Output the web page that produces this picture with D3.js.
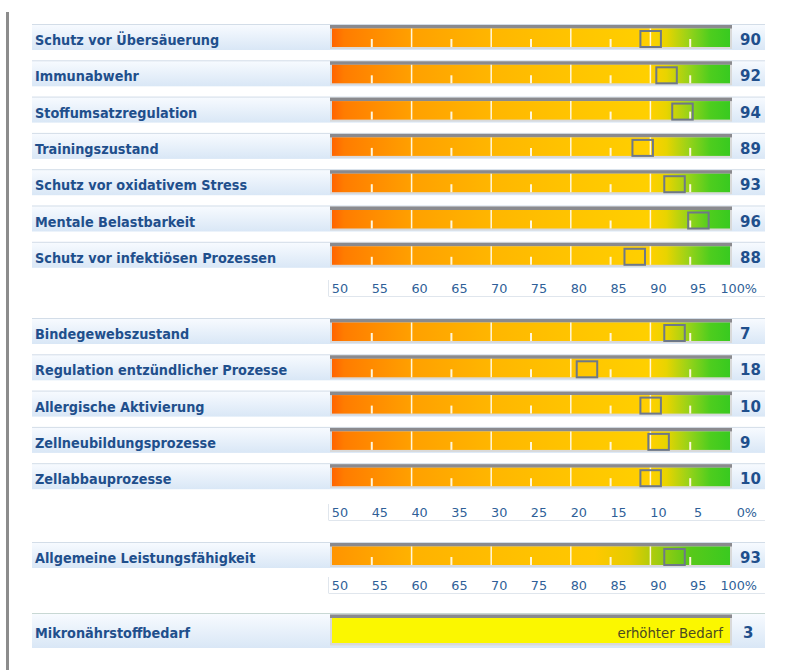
<!DOCTYPE html>
<html>
<head>
<meta charset="utf-8">
<script src="https://cdn.jsdelivr.net/npm/d3@7"></script>
<style>
  body { margin: 0; background: #fff; }
  .lbl { font-family: 'DejaVu Sans Condensed', 'DejaVu Sans', sans-serif; font-weight: bold; fill: #1f4f8c; }
  .val { font-family: 'DejaVu Sans', sans-serif; font-weight: bold; fill: #1f4f8c; }
  .tick { font-family: 'DejaVu Sans', sans-serif; fill: #2f5f98; }
</style>
</head>
<body>
<div class="chart"></div>
<script>
  const width = 791;
  const height = 670;

  // section 1: percent 50..100
  const labelsA = ['Schutz vor Übersäuerung', 'Immunabwehr', 'Stoffumsatzregulation', 'Trainingszustand',
    'Schutz vor oxidativem Stress', 'Mentale Belastbarkeit', 'Schutz vor infektiösen Prozessen']
  const valuesA = [90, 92, 94, 89, 93, 96, 88]

  // section 2: percent 50..0
  const labelsB = ['Bindegewebszustand', 'Regulation entzündlicher Prozesse', 'Allergische Aktivierung',
    'Zellneubildungsprozesse', 'Zellabbauprozesse']
  const valuesB = [7, 18, 10, 9, 10]

  // section 3
  const labelsC = ['Allgemeine Leistungsfähigkeit']
  const valuesC = [93]

  // section 4
  const needLabel = 'Mikronährstoffbedarf'
  const needValue = 3
  const needText = 'erhöhter Bedarf'

  const ticksUp = [50, 55, 60, 65, 70, 75, 80, 85, 90, 95, 100]
  const tickLabelsUp = ['50', '55', '60', '65', '70', '75', '80', '85', '90', '95', '100%']
  const ticksDown = [50, 45, 40, 35, 30, 25, 20, 15, 10, 5, 0]
  const tickLabelsDown = ['50', '45', '40', '35', '30', '25', '20', '15', '10', '5', '0%']

  const barLeft = 332
  const barRight = 730
  const rowStep = 36.3

  const xUp = d3.scaleLinear().domain([50, 100]).range([barLeft, barRight])
  const xDown = d3.scaleLinear().domain([50, 0]).range([barLeft, barRight])

  const svg = d3.select('.chart').append('svg')
    .attr('width', width)
    .attr('height', height)

  const defs = svg.append('defs')

  function hGradient(id, stops) {
    const g = defs.append('linearGradient')
      .attr('id', id)
      .attr('gradientUnits', 'userSpaceOnUse')
      .attr('x1', barLeft).attr('x2', barRight)
      .attr('y1', 0).attr('y2', 0)
    g.selectAll('stop').data(stops).join('stop')
      .attr('offset', d => d[0])
      .attr('stop-color', d => d[1])
  }

  hGradient('grad-main', [
    [0, '#ff6400'], [0.03, '#ff7c00'], [0.2, '#ffa000'], [0.4, '#ffb600'],
    [0.6, '#ffc400'], [0.8, '#ffd000'], [0.84, '#e8d400'], [0.9, '#92d21a'],
    [0.95, '#4ecd1e'], [1, '#38ca20']
  ])
  hGradient('grad-total', [
    [0, '#ff9400'], [0.2, '#ffb200'], [0.5, '#ffc200'], [0.66, '#ffc800'],
    [0.75, '#e4cc00'], [0.82, '#9fcc10'], [0.9, '#58c91a'], [1, '#3aca20']
  ])

  const strip = defs.append('linearGradient')
    .attr('id', 'strip').attr('x1', 0).attr('x2', 0).attr('y1', 0).attr('y2', 1)
  strip.append('stop').attr('offset', 0).attr('stop-color', '#f8fbff')
  strip.append('stop').attr('offset', 1).attr('stop-color', '#d9e7f6')

  // left border line
  svg.append('rect')
    .attr('x', 6).attr('y', 12).attr('width', 3).attr('height', height - 12)
    .attr('fill', '#8c8c8c')

  function drawRows(labels, values, scale, top, gradId) {
    const rows = svg.append('g').selectAll('g')
      .data(labels.map((l, i) => ({ label: l, value: values[i], i })))
      .join('g')
      .attr('transform', d => `translate(0, ${top + d.i * rowStep})`)

    rows.append('rect')
      .attr('x', 32).attr('y', 0).attr('width', 733).attr('height', 26)
      .attr('fill', 'url(#strip)')
    rows.append('line')
      .attr('x1', 32).attr('x2', 765).attr('y1', 0.5).attr('y2', 0.5)
      .attr('stroke', '#d3dde8')

    rows.append('text')
      .attr('class', 'lbl')
      .attr('x', 35).attr('y', 21)
      .style('font-size', '14.3px')
      .text(d => d.label)

    // bar frame
    rows.append('rect')
      .attr('x', barLeft - 2).attr('y', 1).attr('width', barRight - barLeft + 4).attr('height', 24)
      .attr('fill', '#d9d9d9')
    rows.append('rect')
      .attr('x', barLeft - 2).attr('y', 1).attr('width', barRight - barLeft + 4).attr('height', 3.5)
      .attr('fill', '#8a8a8e')
    rows.append('rect')
      .attr('x', barLeft).attr('y', 4.5).attr('width', barRight - barLeft).attr('height', 18.5)
      .attr('fill', `url(#${gradId})`)

    // scale lines inside the bar
    const majors = [60, 70, 80, 90]
    const minors = [55, 65, 75, 85, 95]
    rows.selectAll('.major').data(majors).join('line')
      .attr('class', 'major')
      .attr('x1', t => xUp(t)).attr('x2', t => xUp(t))
      .attr('y1', 4.5).attr('y2', 23)
      .attr('stroke', '#fff7dc').attr('stroke-width', 1.5)
    rows.selectAll('.minor').data(minors).join('line')
      .attr('class', 'minor')
      .attr('x1', t => xUp(t)).attr('x2', t => xUp(t))
      .attr('y1', 15).attr('y2', 23)
      .attr('stroke', '#fff7dc').attr('stroke-width', 2)

    // marker
    rows.append('rect')
      .attr('x', d => scale(d.value) - 10).attr('y', 7)
      .attr('width', 20.5).attr('height', 16)
      .attr('fill', 'none')
      .attr('stroke', '#6e7888').attr('stroke-width', 2)

    rows.append('text')
      .attr('class', 'val')
      .attr('x', 740).attr('y', 21)
      .style('font-size', '15px')
      .text(d => d.value)
  }

  function drawAxis(ticks, labels, scale, baseline) {
    const g = svg.append('g')
    g.append('line')
      .attr('x1', barLeft - 3).attr('x2', 765).attr('y1', baseline + 3.5).attr('y2', baseline + 3.5)
      .attr('stroke', '#e0e6ed')
    g.append('line')
      .attr('x1', barLeft - 3.5).attr('x2', barLeft - 3.5).attr('y1', baseline - 13).attr('y2', baseline + 3.5)
      .attr('stroke', '#e0e6ed')
    g.selectAll('text')
      .data(ticks.map((t, i) => ({ t, label: labels[i], last: i === ticks.length - 1 })))
      .join('text')
      .attr('class', 'tick')
      .attr('x', d => d.last ? scale(d.t) + 27 : scale(d.t) + 8)
      .attr('y', baseline)
      .attr('text-anchor', d => d.last ? 'end' : 'middle')
      .style('font-size', '12.8px')
      .text(d => d.label)
  }

  drawRows(labelsA, valuesA, xUp, 24, 'grad-main')
  drawAxis(ticksUp, tickLabelsUp, xUp, 293)

  drawRows(labelsB, valuesB, xDown, 318, 'grad-main')
  drawAxis(ticksDown, tickLabelsDown, xDown, 517)

  drawRows(labelsC, valuesC, xUp, 542, 'grad-total')
  drawAxis(ticksUp, tickLabelsUp, xUp, 590)

  // Mikronaehrstoffbedarf row
  const need = svg.append('g').attr('transform', 'translate(0, 613)')
  need.append('rect')
    .attr('x', 32).attr('y', 0).attr('width', 733).attr('height', 35)
    .attr('fill', 'url(#strip)')
  need.append('line')
    .attr('x1', 32).attr('x2', 765).attr('y1', 0.5).attr('y2', 0.5)
    .attr('stroke', '#c8d8d4')
  need.append('text')
    .attr('class', 'lbl')
    .attr('x', 35).attr('y', 25)
    .style('font-size', '14.3px')
    .text(needLabel)
  need.append('rect')
    .attr('x', barLeft - 2).attr('y', 1.5).attr('width', barRight - barLeft + 4).attr('height', 31)
    .attr('fill', '#d9d9d9')
  need.append('rect')
    .attr('x', barLeft - 2).attr('y', 1.5).attr('width', barRight - barLeft + 4).attr('height', 3.5)
    .attr('fill', '#8a8a8e')
  need.append('rect')
    .attr('x', barLeft).attr('y', 5).attr('width', barRight - barLeft).attr('height', 25)
    .attr('fill', '#fbf700')
  need.append('text')
    .attr('x', barRight - 7).attr('y', 25)
    .attr('text-anchor', 'end')
    .style('font-family', 'DejaVu Sans, sans-serif')
    .style('font-size', '13.3px')
    .attr('fill', '#4a4a22')
    .text(needText)
  need.append('text')
    .attr('class', 'val')
    .attr('x', 743).attr('y', 25)
    .style('font-size', '15px')
    .text(needValue)
</script>
</body>
</html>
